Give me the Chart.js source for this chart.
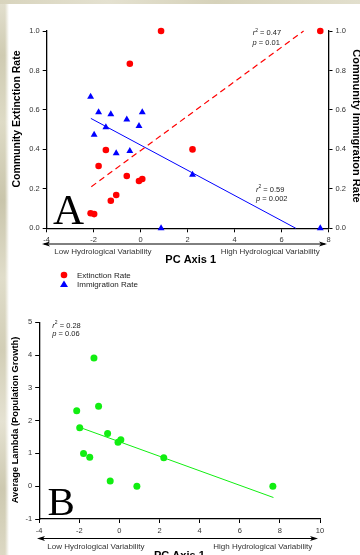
<!DOCTYPE html>
<html lang="en">
<head>
  <meta charset="UTF-8" />
  <title>Extinction, immigration and lambda vs PC Axis 1</title>
  <style>
    body { margin: 0; background: #fff; font-family: "Liberation Sans", Arial, sans-serif; }
    .page { position: relative; width: 360px; height: 555px; overflow: hidden; background: #fff; }
    .stone-left {
      position: absolute; left: 0; top: 0; width: 9px; height: 555px;
      background:
        linear-gradient(to right, rgba(255,255,255,0) 55%, #fff 100%),
        linear-gradient(to bottom, #e3e0cf 0%, #cfcbb2 10%, #dedbc6 22%, #c9c5ab 36%, #e0ddca 50%,
                        #d2ceb6 63%, #e5e2d2 76%, #cdc9b0 88%, #dcd8c3 100%);
    }
    .stone-top {
      position: absolute; left: 0; top: 0; width: 360px; height: 4px;
      background: linear-gradient(to right, #d8d4bd, #e4e1d0 30%, #d6d2ba 60%, #e2dfcd);
    }
    canvas { position: absolute; left: 0; }
    #chartA { top: 0; }
    #chartB { top: 300px; }
  </style>
  <script src="https://cdn.jsdelivr.net/npm/chart.js"></script>
</head>
<body>
  <div class="page">
    <div class="stone-left"></div>
    <div class="stone-top"></div>
    <canvas id="chartA" width="360" height="300"></canvas>
    <canvas id="chartB" width="360" height="255"></canvas>
  </div>

  <script>
    // sites, PC axis 1 scores
    const pcScores = [-2.13, -1.98, -1.79, -1.48, -1.27, -1.04, -0.59, -0.46, -0.07, 0.07, 0.87, 2.21, 7.65];
    const extinctionRate = [0.076, 0.072, 0.316, 0.397, 0.14, 0.169, 0.265, 0.834, 0.24, 0.25, 1.0, 0.40, 1.0];
    const immigrationRate = [0.667, 0.474, 0.588, 0.512, 0.578, 0.38, 0.552, 0.392, 0.518, 0.588, 0.0, 0.272, 0.0];
    const avgLambda = [2.30, 1.78, 1.0, 0.88, 3.91, 2.44, 1.61, 0.16, 1.34, 1.42, 0.0, 0.87, 0.0];

    // fitted lines (end points)
    const extFitX = [-2.1, 6.94], extFitY = [0.211, 1.0];
    const immFitX = [-2.12, 6.61], immFitY = [0.557, 0.0];
    const lamFitX = [-2.0, 7.68], lamFitY = [1.80, -0.345];

    const FONT = '"Liberation Sans", Arial, sans-serif';
    const RED = '#ff0000', BLUE = '#0000ff', GREEN = '#11ee11';

    const pts = (xs, ys) => xs.map((x, i) => ({ x: x, y: ys[i] }));

    function statText(ctx, x, y, letter, value) {
      ctx.save();
      ctx.fillStyle = '#222';
      ctx.textBaseline = 'middle';
      ctx.textAlign = 'left';
      ctx.font = 'italic 7.5px ' + FONT;
      ctx.fillText(letter, x, y);
      let cx = x + ctx.measureText(letter).width;
      if (letter === 'r') {
        ctx.font = '5px ' + FONT;
        ctx.fillText('2', cx, y - 3);
        cx += ctx.measureText('2').width;
      }
      ctx.font = '7.5px ' + FONT;
      ctx.fillText(' = ' + value, cx, y);
      ctx.restore();
    }

    function hArrow(ctx, x1, x2, y) {
      ctx.save();
      ctx.strokeStyle = '#000';
      ctx.fillStyle = '#000';
      ctx.lineWidth = 1;
      ctx.beginPath();
      ctx.moveTo(x1 + 2, y); ctx.lineTo(x2 - 2, y);
      ctx.stroke();
      ctx.beginPath();
      ctx.moveTo(x1, y); ctx.lineTo(x1 + 8, y - 2.5); ctx.lineTo(x1 + 6, y); ctx.lineTo(x1 + 8, y + 2.5);
      ctx.closePath(); ctx.fill();
      ctx.beginPath();
      ctx.moveTo(x2, y); ctx.lineTo(x2 - 8, y - 2.5); ctx.lineTo(x2 - 6, y); ctx.lineTo(x2 - 8, y + 2.5);
      ctx.closePath(); ctx.fill();
      ctx.restore();
    }

    function label(ctx, text, x, y, opts) {
      ctx.save();
      ctx.font = opts.font;
      ctx.fillStyle = opts.color || '#000';
      ctx.textAlign = opts.align || 'left';
      ctx.textBaseline = opts.baseline || 'middle';
      if (opts.rotate) {
        ctx.translate(x, y);
        ctx.rotate(opts.rotate);
        ctx.fillText(text, 0, 0);
      } else {
        ctx.fillText(text, x, y);
      }
      ctx.restore();
    }

    function axisCfg(min, max, step, fmt) {
      return {
        type: 'linear', min: min, max: max,
        ticks: { stepSize: step, color: '#333', padding: 3, font: { family: FONT, size: 7.5 }, callback: fmt },
        grid: { drawOnChartArea: false, drawTicks: true, tickLength: 4, color: '#000', lineWidth: 1 },
        border: { color: '#000', width: 1.3 }
      };
    }

    // ---- Panel A ----
    const decorA = {
      id: 'decorA',
      afterDraw(chart) {
        const ctx = chart.ctx;
        statText(ctx, 252.7, 33.3, 'r', '0.47');
        statText(ctx, 252.5, 42.7, 'p', '0.01');
        statText(ctx, 256, 190, 'r', '0.59');
        statText(ctx, 256, 199.3, 'p', '0.002');

        label(ctx, 'A', 53, 223.5, { font: '43px "Liberation Serif", "Times New Roman", serif', baseline: 'alphabetic' });

        hArrow(ctx, 42, 327, 244);
        label(ctx, 'Low Hydrological Variability', 54.3, 251.5, { font: '8px ' + FONT, color: '#333' });
        label(ctx, 'High Hydrological Variability', 220.7, 251.5, { font: '8px ' + FONT, color: '#333' });
        label(ctx, 'PC Axis 1', 190.7, 263.3, { font: 'bold 11px ' + FONT, align: 'center', baseline: 'alphabetic' });

        label(ctx, 'Community Extinction Rate', 17, 119, { font: 'bold 10.5px ' + FONT, align: 'center', rotate: -Math.PI / 2 });
        label(ctx, 'Community Immigration Rate', 353, 126, { font: 'bold 11px ' + FONT, align: 'center', baseline: 'alphabetic', rotate: Math.PI / 2 });

        // legend
        ctx.save();
        ctx.fillStyle = RED;
        ctx.beginPath(); ctx.arc(64, 275, 3.3, 0, Math.PI * 2); ctx.fill();
        ctx.fillStyle = BLUE;
        ctx.beginPath(); ctx.moveTo(64, 280.5); ctx.lineTo(68, 287); ctx.lineTo(60, 287); ctx.closePath(); ctx.fill();
        ctx.restore();
        label(ctx, 'Extinction Rate', 77, 275.5, { font: '8px ' + FONT, color: '#222' });
        label(ctx, 'Immigration Rate', 77, 284.5, { font: '8px ' + FONT, color: '#222' });
      }
    };

    const xA = axisCfg(-4, 8, 2);
    xA.afterFit = s => { s.height = 71.7; };
    const yA = axisCfg(0, 1, 0.2, v => v.toFixed(1));
    yA.position = 'left';
    yA.afterFit = s => { s.width = 46.7; };
    const y2A = axisCfg(0, 1, 0.2, v => v.toFixed(1));
    y2A.position = 'right';
    y2A.afterFit = s => { s.width = 31.5; };

    new Chart(document.getElementById('chartA'), {
      type: 'scatter',
      data: {
        datasets: [
          { label: 'Extinction Rate', data: pts(pcScores, extinctionRate), yAxisID: 'y',
            backgroundColor: RED, borderColor: RED, pointRadius: 3.3, pointBorderWidth: 0, clip: false },
          { label: 'Immigration Rate', data: pts(pcScores, immigrationRate), yAxisID: 'y2',
            pointStyle: 'triangle', backgroundColor: BLUE, borderColor: BLUE, pointRadius: 4, pointBorderWidth: 0, clip: false },
          { label: 'ext fit', data: pts(extFitX, extFitY), yAxisID: 'y', showLine: true, pointRadius: 0,
            borderColor: RED, borderWidth: 1.2, borderDash: [6, 4], clip: false },
          { label: 'imm fit', data: pts(immFitX, immFitY), yAxisID: 'y2', showLine: true, pointRadius: 0,
            borderColor: BLUE, borderWidth: 1, clip: false }
        ]
      },
      options: {
        responsive: false,
        animation: false,
        events: [],
        layout: { padding: { top: 31, left: 0, right: 0, bottom: 0 } },
        scales: { x: xA, y: yA, y2: y2A },
        plugins: { legend: { display: false }, tooltip: { enabled: false } }
      },
      plugins: [decorA]
    });

    // ---- Panel B ----
    const decorB = {
      id: 'decorB',
      afterDraw(chart) {
        const ctx = chart.ctx;
        statText(ctx, 52.3, 25.7, 'r', '0.28');
        statText(ctx, 52.3, 34.3, 'p', '0.06');

        label(ctx, 'B', 47.5, 214.5, { font: '41px "Liberation Serif", "Times New Roman", serif', baseline: 'alphabetic' });

        hArrow(ctx, 37, 318, 238.5);
        label(ctx, 'Low Hydrological Variability', 47.3, 247, { font: '8px ' + FONT, color: '#333' });
        label(ctx, 'High Hydrological Variability', 213.3, 246.7, { font: '8px ' + FONT, color: '#333' });
        label(ctx, 'PC Axis 1', 154, 258.5, { font: 'bold 11px ' + FONT, baseline: 'alphabetic' });

        label(ctx, 'Average Lambda (Population Growth)', 15, 120, { font: 'bold 9.3px ' + FONT, align: 'center', rotate: -Math.PI / 2 });
      }
    };

    const xB = axisCfg(-4, 10, 2);
    xB.afterFit = s => { s.height = 36; };
    const yB = axisCfg(-1, 5, 1);
    yB.afterFit = s => { s.width = 39.2; };

    new Chart(document.getElementById('chartB'), {
      type: 'scatter',
      data: {
        datasets: [
          { label: 'Average Lambda', data: pts(pcScores, avgLambda),
            backgroundColor: GREEN, borderColor: GREEN, pointRadius: 3.5, pointBorderWidth: 0, clip: false },
          { label: 'lambda fit', data: pts(lamFitX, lamFitY), showLine: true, pointRadius: 0,
            borderColor: GREEN, borderWidth: 1, clip: false }
        ]
      },
      options: {
        responsive: false,
        animation: false,
        events: [],
        layout: { padding: { top: 22.3, left: 0, right: 40, bottom: 0 } },
        scales: { x: xB, y: yB },
        plugins: { legend: { display: false }, tooltip: { enabled: false } }
      },
      plugins: [decorB]
    });
  </script>
</body>
</html>
